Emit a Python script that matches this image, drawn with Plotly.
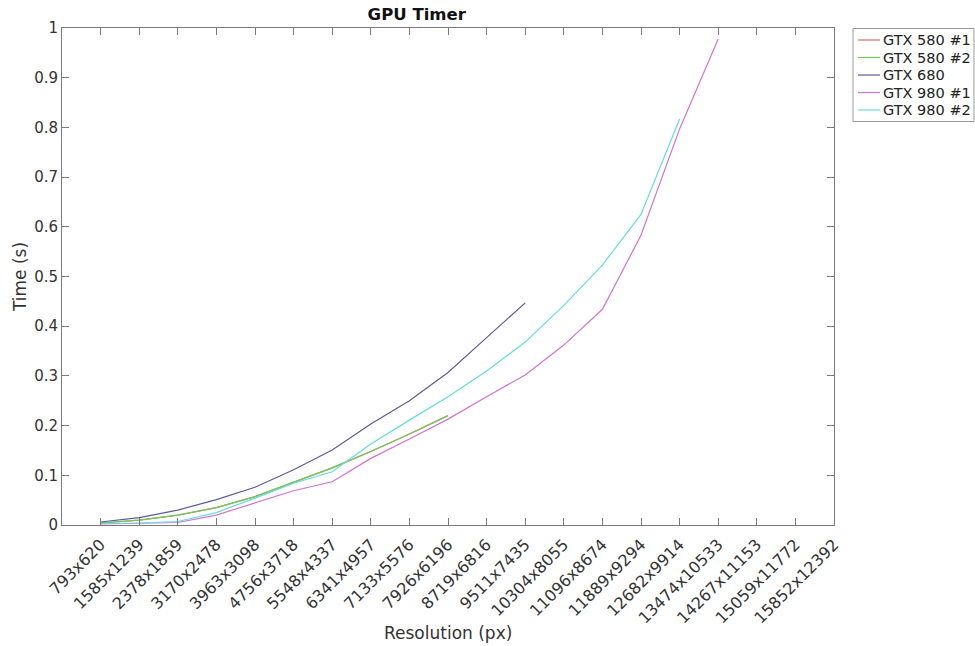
import plotly.graph_objects as go

resolutions = ["793x620", "1585x1239", "2378x1859", "3170x2478", "3963x3098",
               "4756x3718", "5548x4337", "6341x4957", "7133x5576", "7926x6196",
               "8719x6816", "9511x7435", "10304x8055", "11096x8674", "11889x9294",
               "12682x9914", "13474x10533", "14267x11153", "15059x11772", "15852x12392"]

gtx580_1 = [0.004, 0.010, 0.020, 0.035, 0.057, 0.086, 0.115, 0.148, 0.183, 0.220]
gtx580_2 = [0.004, 0.010, 0.020, 0.035, 0.057, 0.086, 0.115, 0.148, 0.183, 0.220]
gtx680 = [0.006, 0.015, 0.030, 0.051, 0.076, 0.111, 0.151, 0.203, 0.250, 0.307, 0.377, 0.447]
gtx980_1 = [0.002, 0.003, 0.005, 0.020, 0.045, 0.069, 0.087, 0.134, 0.173, 0.213,
            0.258, 0.302, 0.362, 0.434, 0.583, 0.797, 0.978]
gtx980_2 = [0.003, 0.004, 0.007, 0.025, 0.054, 0.084, 0.107, 0.163, 0.211, 0.258,
            0.310, 0.368, 0.442, 0.523, 0.625, 0.817]

series_names = ["GTX 580 #1", "GTX 580 #2", "GTX 680", "GTX 980 #1", "GTX 980 #2"]
series_values = [gtx580_1, gtx580_2, gtx680, gtx980_1, gtx980_2]
series_colors = ["#e06a6a", "#6ccf52", "#5c5c9c", "#d273d2", "#62dede"]

W, H = 975, 646
L, R, T, B = 62, 141, 28, 121
PW = W - L - R
PH = H - T - B


def px_x(px):
    return (px - L) / PW


def px_y(py):
    return (H - B - py) / PH


fig = go.Figure()
for name, vals, col in zip(series_names, series_values, series_colors):
    fig.add_trace(go.Scatter(
        x=list(range(1, len(vals) + 1)), y=vals, mode="lines", name=name,
        line=dict(color=col, width=1.2), showlegend=False,
    ))

axis_common = dict(
    showline=True, linecolor="#7a7a7a", linewidth=1, mirror="ticks",
    ticks="inside", ticklen=7, tickcolor="#7a7a7a", tickwidth=1,
    showgrid=False, zeroline=False, automargin=False,
)

shapes = []
annotations = []

# legend box (drawn manually to match the reference's compact legend)
shapes.append(dict(type="rect", xref="paper", yref="paper",
                   x0=px_x(853), x1=px_x(974), y0=px_y(121.5), y1=px_y(28.5),
                   line=dict(color="#9a9a9a", width=1), fillcolor="white", layer="above"))
row_y = [40, 57.5, 75, 92.5, 110]
for name, col, ry in zip(series_names, series_colors, row_y):
    shapes.append(dict(type="line", xref="paper", yref="paper",
                       x0=px_x(858), x1=px_x(880), y0=px_y(ry), y1=px_y(ry),
                       line=dict(color=col, width=1.2), layer="above"))
    annotations.append(dict(text=name, xref="paper", yref="paper",
                            x=px_x(881), y=px_y(ry), xanchor="left", yanchor="middle",
                            showarrow=False,
                            font=dict(family="DejaVu Sans", size=14.5, color="#222222")))

# x-axis title
annotations.append(dict(text="Resolution (px)", xref="paper", yref="paper",
                        x=px_x(448), y=px_y(633), xanchor="center", yanchor="middle",
                        showarrow=False,
                        font=dict(family="DejaVu Sans", size=17, color="#333333")))

fig.update_layout(
    width=W, height=H,
    margin=dict(l=L, r=R, t=T, b=B),
    paper_bgcolor="white", plot_bgcolor="white",
    font=dict(family="DejaVu Sans", color="#333333"),
    title=dict(text="<b>GPU Timer</b>", x=448 / W, xanchor="center",
               xref="paper", y=1 - 14 / H, yanchor="middle",
               font=dict(family="DejaVu Sans", size=16.5, color="#111111")),
    xaxis=dict(range=[0, 20], tickvals=list(range(1, 21)), ticktext=resolutions,
               tickangle=-45, ticklabelstandoff=3,
               tickfont=dict(family="DejaVu Sans", size=16, color="#333333"),
               **axis_common),
    yaxis=dict(range=[0, 1], tickvals=[i / 10 for i in range(11)],
               ticktext=["0", "0.1", "0.2", "0.3", "0.4", "0.5", "0.6", "0.7", "0.8", "0.9", "1"],
               tickfont=dict(family="DejaVu Sans", size=15, color="#333333"),
               title=dict(text="Time (s)", font=dict(size=17, color="#333333"), standoff=3),
               **axis_common),
    shapes=shapes,
    annotations=annotations,
    showlegend=False,
)

fig.write_html("out.html")
